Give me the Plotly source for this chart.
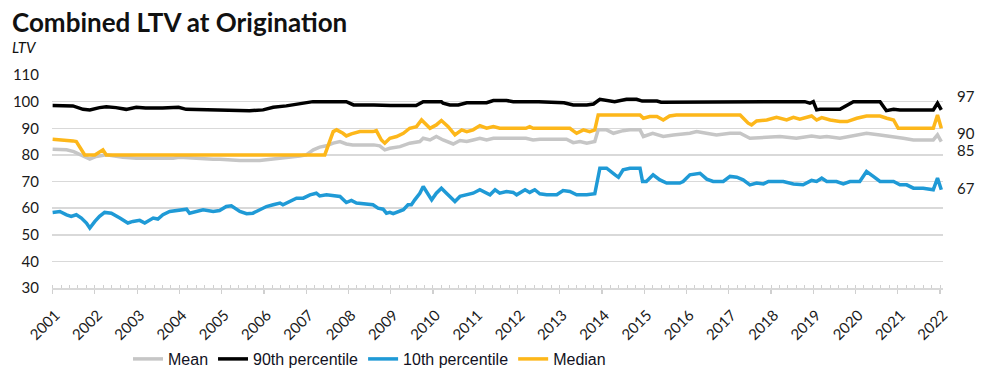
import plotly.graph_objects as go

# ---- data (decimal year, LTV %) ----
mean_t = [2001.0, 2001.33, 2001.5, 2001.72, 2001.88, 2002.03, 2002.27, 2002.66, 2002.98, 2003.5, 2003.85, 2004.0,
          2004.32, 2004.8, 2004.96, 2005.43, 2005.9, 2006.22, 2006.53, 2006.85, 2007.0, 2007.17, 2007.32, 2007.48,
          2007.64, 2007.8, 2007.95, 2008.1, 2008.6, 2008.74, 2008.86, 2008.98, 2009.22, 2009.45, 2009.69, 2009.77,
          2009.93, 2010.08, 2010.24, 2010.48, 2010.64, 2010.8, 2010.95, 2011.11, 2011.27, 2011.43, 2012.2, 2012.37,
          2012.53, 2013.16, 2013.32, 2013.48, 2013.64, 2013.83, 2013.91, 2014.11, 2014.27, 2014.5, 2014.66, 2014.9,
          2014.98, 2015.2, 2015.45, 2015.69, 2016.08, 2016.24, 2016.47, 2016.71, 2017.03, 2017.27, 2017.5, 2017.9,
          2018.21, 2018.6, 2018.96, 2019.16, 2019.32, 2019.63, 2019.95, 2020.26, 2020.58, 2020.9, 2021.13, 2021.37,
          2021.84, 2021.94, 2022.03]
mean_v = [82.1, 81.9, 81.25, 79.4, 78.4, 79.4, 80.0, 79.1, 78.75, 78.75, 78.75, 79.1,
          78.75, 78.4, 78.4, 77.9, 77.9, 78.4, 79.1, 79.6, 80.0, 81.9, 82.9, 83.4,
          84.4, 85.0, 84.1, 83.75, 83.75, 83.4, 81.9, 82.5, 83.1, 84.4, 85.0, 86.25,
          85.6, 86.9, 85.6, 84.1, 85.4, 85.0, 85.6, 86.25, 85.6, 86.25, 86.25, 85.6,
          85.9, 85.9, 84.6, 85.0, 84.4, 85.0, 89.4, 89.4, 88.1, 89.1, 89.4, 89.4,
          86.9, 88.1, 86.9, 87.5, 88.1, 88.75, 88.1, 87.5, 88.1, 88.1, 86.25, 86.5,
          86.9, 86.25, 87.1, 86.6, 86.9, 86.25, 87.1, 88.1, 87.5, 86.9, 86.25, 85.6,
          85.6, 87.5, 85.0]

p90_t = [2001.0, 2001.48, 2001.72, 2001.88, 2002.11, 2002.27, 2002.5, 2002.74, 2002.98, 2003.2, 2003.6, 2003.98,
         2004.16, 2004.63, 2005.0, 2005.27, 2005.66, 2005.98, 2006.22, 2006.53, 2006.85, 2007.0, 2007.16, 2007.95,
         2008.12, 2008.6, 2009.0, 2009.6, 2009.77, 2010.2, 2010.24, 2010.4, 2010.6, 2010.8, 2011.27, 2011.43,
         2011.74, 2011.9, 2012.5, 2013.1, 2013.32, 2013.64, 2013.8, 2013.95, 2014.1, 2014.3, 2014.58, 2014.82,
         2014.95, 2015.3, 2015.4, 2017.27, 2017.4, 2018.8, 2018.92, 2019.0, 2019.08, 2019.16, 2019.63, 2019.71,
         2019.95, 2020.58, 2020.73, 2020.9, 2021.05, 2021.84, 2021.94, 2022.03]
p90_v = [98.5, 98.4, 97.1, 96.9, 97.75, 98.1, 97.75, 97.1, 97.9, 97.6, 97.6, 97.9,
         97.1, 96.9, 96.9, 96.6, 96.6, 96.9, 97.9, 98.4, 99.1, 99.75, 100.0, 100.0,
         98.75, 98.75, 98.5, 98.5, 100.0, 100.0, 99.4, 98.75, 98.75, 99.6, 99.6, 100.4,
         100.4, 100.0, 100.0, 99.6, 98.75, 98.75, 99.1, 100.9, 100.4, 100.0, 100.9, 100.9,
         100.2, 100.2, 99.75, 99.75, 100.0, 100.0, 99.4, 100.0, 96.9, 97.1, 97.1, 97.9,
         100.0, 100.0, 96.6, 97.1, 96.9, 96.9, 99.4, 96.9]

p10_t = [2001.0, 2001.17, 2001.33, 2001.44, 2001.56, 2001.68, 2001.8, 2001.88, 2002.0, 2002.11, 2002.23, 2002.39,
         2002.59, 2002.78, 2002.9, 2003.06, 2003.18, 2003.38, 2003.49, 2003.61, 2003.77, 2004.01, 2004.17, 2004.24,
         2004.4, 2004.56, 2004.8, 2004.95, 2005.11, 2005.23, 2005.43, 2005.59, 2005.74, 2005.9, 2006.06, 2006.22,
         2006.38, 2006.45, 2006.61, 2006.77, 2006.93, 2007.09, 2007.24, 2007.32, 2007.48, 2007.64, 2007.8, 2007.95,
         2008.07, 2008.19, 2008.42, 2008.58, 2008.7, 2008.82, 2008.9, 2008.98, 2009.06, 2009.18, 2009.3, 2009.41,
         2009.49, 2009.57, 2009.69, 2009.77, 2009.89, 2009.97, 2010.08, 2010.2, 2010.32, 2010.44, 2010.52, 2010.64,
         2010.8, 2010.95, 2011.11, 2011.27, 2011.35, 2011.47, 2011.58, 2011.74, 2011.9, 2011.98, 2012.18, 2012.29,
         2012.41, 2012.53, 2012.69, 2012.93, 2013.08, 2013.24, 2013.4, 2013.64, 2013.83, 2013.95, 2014.11, 2014.31,
         2014.39, 2014.5, 2014.66, 2014.9, 2014.96, 2015.05, 2015.21, 2015.37, 2015.53, 2015.84, 2015.92, 2016.08,
         2016.24, 2016.32, 2016.48, 2016.63, 2016.87, 2017.03, 2017.19, 2017.34, 2017.5, 2017.66, 2017.82, 2017.94,
         2018.29, 2018.53, 2018.76, 2018.96, 2019.08, 2019.2, 2019.32, 2019.55, 2019.71, 2019.87, 2020.1, 2020.18,
         2020.26, 2020.42, 2020.58, 2020.9, 2021.05, 2021.21, 2021.37, 2021.6, 2021.84, 2021.94, 2022.03]
p10_v = [58.4, 58.75, 57.5, 56.9, 57.5, 56.25, 54.4, 52.5, 55.0, 56.9, 58.4, 58.1,
         56.25, 54.4, 55.0, 55.4, 54.4, 56.25, 55.9, 57.5, 58.75, 59.4, 59.6, 58.1,
         58.75, 59.4, 58.75, 59.1, 60.6, 60.9, 58.75, 57.9, 58.1, 59.4, 60.6, 61.25,
         61.9, 61.25, 62.5, 63.75, 63.75, 65.0, 65.6, 64.6, 65.0, 64.6, 64.4, 62.1,
         62.9, 61.9, 61.6, 61.25, 60.0, 59.6, 58.1, 58.4, 57.9, 58.75, 59.4, 61.25,
         61.25, 63.1, 65.6, 68.1, 65.0, 63.1, 65.6, 67.5, 65.6, 63.75, 62.5, 64.4,
         65.0, 65.6, 66.9, 65.6, 65.0, 66.9, 65.6, 66.25, 65.9, 65.0, 66.9, 65.9,
         66.9, 65.4, 65.0, 65.0, 66.6, 66.25, 65.0, 65.0, 65.4, 75.0, 75.0, 72.5,
         71.6, 74.4, 75.0, 75.0, 70.0, 70.0, 72.5, 70.6, 69.4, 69.4, 70.0, 72.5,
         73.1, 73.1, 70.9, 70.0, 70.0, 71.9, 71.6, 70.6, 68.75, 69.4, 69.1, 70.0,
         70.0, 69.1, 68.75, 70.4, 70.0, 71.25, 70.0, 70.0, 69.1, 70.0, 70.0, 71.9,
         73.75, 71.9, 70.0, 70.0, 68.75, 68.75, 67.5, 67.5, 66.9, 71.25, 66.9]

med_t = [2001.0, 2001.32, 2001.48, 2001.56, 2001.68, 2001.76, 2002.0, 2002.19, 2002.27, 2007.44, 2007.64, 2007.72,
         2007.87, 2007.95, 2008.07, 2008.27, 2008.58, 2008.66, 2008.78, 2008.86, 2008.98, 2009.14, 2009.3, 2009.45,
         2009.61, 2009.73, 2009.93, 2010.08, 2010.2, 2010.36, 2010.52, 2010.68, 2010.8, 2010.95, 2011.11, 2011.27,
         2011.43, 2011.58, 2012.2, 2012.29, 2012.37, 2013.24, 2013.4, 2013.56, 2013.71, 2013.83, 2013.91, 2014.9,
         2014.98, 2015.13, 2015.3, 2015.45, 2015.6, 2015.76, 2017.27, 2017.46, 2017.54, 2017.66, 2017.9, 2018.05,
         2018.13, 2018.37, 2018.53, 2018.68, 2018.96, 2019.08, 2019.2, 2019.4, 2019.63, 2019.8, 2020.03, 2020.26,
         2020.58, 2020.74, 2020.9, 2021.01, 2021.84, 2021.94, 2022.03]
med_v = [85.9, 85.6, 85.25, 85.0, 81.9, 80.0, 80.0, 81.9, 80.0, 80.0, 88.75, 89.4,
         88.1, 87.1, 87.9, 88.75, 88.75, 89.1, 85.6, 84.4, 86.25, 86.9, 88.1, 90.0,
         90.6, 93.1, 90.0, 91.25, 92.9, 90.6, 87.5, 89.4, 88.75, 89.4, 91.0, 90.0,
         90.6, 90.0, 90.0, 90.6, 90.0, 90.0, 88.1, 89.4, 88.75, 89.4, 95.0, 95.0,
         93.75, 94.4, 94.4, 93.1, 94.6, 95.0, 95.0, 91.9, 91.25, 92.75, 93.1, 93.75,
         94.1, 93.1, 94.1, 93.4, 94.6, 93.1, 94.0, 93.1, 92.5, 92.5, 93.75, 94.6,
         94.6, 93.75, 93.1, 90.0, 90.0, 95.0, 90.0]

years = list(range(2001, 2023))
year_labels = [str(y) for y in years]

series = [
    ("Mean", mean_t, mean_v, "#c6c6c6"),
    ("90th percentile", p90_t, p90_v, "#000000"),
    ("10th percentile", p10_t, p10_v, "#1f9ad6"),
    ("Median", med_t, med_v, "#fdb71a"),
]
end_shift = {"Mean": -8, "90th percentile": 14, "10th percentile": 2, "Median": -5}

# the page's body margin is removed below, so figure coords = screen coords
W, H = 998, 378
ML = 52
MT = 75
PLOT_BOTTOM = 288
PLOT_RIGHT = 943
MB = H - PLOT_BOTTOM
MR = W - PLOT_RIGHT
PH = H - MT - MB
PW = W - ML - MR


def px_to_paper_y(y_screen):
    return (PLOT_BOTTOM - y_screen) / PH


def px_to_paper_x(x_screen):
    return (x_screen - ML) / PW


fig = go.Figure()
for name, t, v, c in series:
    fig.add_trace(go.Scatter(x=t, y=v, name=name, mode="lines",
                             line=dict(color=c, width=3.5)))

for name, t, v, c in series:
    fig.add_annotation(x=t[-1], y=v[-1], text=f"{round(v[-1]):.0f}", xref="x", yref="y",
                       showarrow=False, xanchor="left", xshift=14, yshift=end_shift[name],
                       font=dict(family="Lato", size=15, color="#1a1a1a"))

fig.add_annotation(text="<b>Combined LTV at Origination</b>", xref="paper", yref="paper",
                   x=px_to_paper_x(10), y=px_to_paper_y(22), xanchor="left", yanchor="middle",
                   showarrow=False, font=dict(family="Lato", size=26, color="#111111"))
fig.add_annotation(text="<i>LTV</i>", xref="paper", yref="paper",
                   x=px_to_paper_x(10), y=px_to_paper_y(47), xanchor="left", yanchor="middle",
                   showarrow=False, font=dict(family="Lato", size=15, color="#111111"))

fig.update_layout(
    width=W, height=H,
    margin=dict(l=ML, r=MR, t=MT, b=MB, autoexpand=False),
    paper_bgcolor="white", plot_bgcolor="white",
    showlegend=True,
    legend=dict(orientation="h", x=px_to_paper_x(128), xanchor="left", y=px_to_paper_y(359), yanchor="middle",
                font=dict(family="Liberation Sans Narrow, Arial Narrow, Liberation Sans, sans-serif",
                          size=16, color="#111122"),
                bgcolor="rgba(0,0,0,0)", tracegroupgap=0, itemwidth=30),
    xaxis=dict(range=[2000.985, 2022.07], tickmode="array", tickvals=years, ticktext=year_labels,
               tickangle=-45, showgrid=False, zeroline=False,
               showline=True, linecolor="#d9d9d9", linewidth=1.5,
               ticks="outside", ticklen=4, tickcolor="#d0d0d0", tickwidth=1.2,
               ticklabelstandoff=7, ticklabelshift=3,
               minor=dict(tickmode="linear", tick0=2001, dtick=0.2, ticks="inside", ticklen=3,
                          tickcolor="#d0d0d0", tickwidth=1, showgrid=False),
               tickfont=dict(family="Lato", size=15, color="#1a1a1a")),
    yaxis=dict(range=[30, 110], dtick=10, tick0=30, showgrid=True, gridcolor="#d9d9d9", gridwidth=1.5,
               zeroline=False, showline=False, ticks="", ticklabelstandoff=12,
               tickfont=dict(family="Lato", size=15, color="#1a1a1a")),
    hovermode=False,
)

fig.write_html("out.html",
               config={"displayModeBar": False, "staticPlot": True},
               post_script="document.body.style.margin='0';document.body.style.overflow='hidden';")
